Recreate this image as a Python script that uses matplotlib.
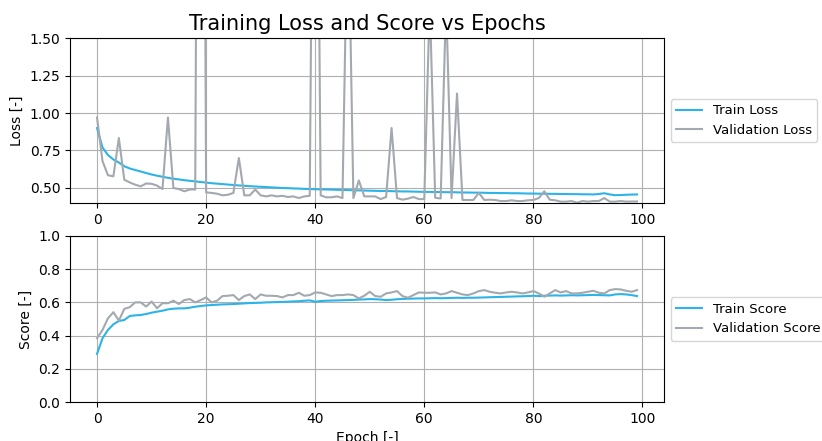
import numpy as np
import matplotlib
matplotlib.use("Agg")
import matplotlib.pyplot as plt

# values, one per epoch
epochs = list(range(100))

train_loss = [
    0.900, 0.770, 0.720, 0.690, 0.670, 0.645, 0.630, 0.620, 0.610, 0.600,
    0.590, 0.582, 0.575, 0.568, 0.562, 0.557, 0.552, 0.548, 0.544, 0.540,
    0.536, 0.532, 0.529, 0.526, 0.523, 0.520, 0.517, 0.515, 0.512, 0.510,
    0.508, 0.506, 0.504, 0.502, 0.500, 0.499, 0.497, 0.496, 0.494, 0.493,
    0.492, 0.491, 0.490, 0.489, 0.488, 0.487, 0.486, 0.485, 0.484, 0.483,
    0.482, 0.481, 0.480, 0.480, 0.479, 0.478, 0.477, 0.477, 0.476, 0.475,
    0.474, 0.474, 0.473, 0.473, 0.472, 0.472, 0.471, 0.470, 0.470, 0.469,
    0.469, 0.468, 0.467, 0.467, 0.466, 0.466, 0.465, 0.465, 0.464, 0.463,
    0.463, 0.462, 0.462, 0.461, 0.461, 0.460, 0.460, 0.459, 0.459, 0.458,
    0.458, 0.457, 0.460, 0.465, 0.457, 0.452, 0.453, 0.455, 0.456, 0.457,
]

val_loss = [
    0.970, 0.680, 0.585, 0.578, 0.833, 0.555, 0.537, 0.522, 0.511, 0.530,
    0.528, 0.516, 0.493, 0.970, 0.500, 0.493, 0.478, 0.490, 0.490, 8.000,
    0.471, 0.467, 0.462, 0.451, 0.455, 0.467, 0.700, 0.451, 0.451, 0.490,
    0.451, 0.444, 0.451, 0.444, 0.448, 0.440, 0.444, 0.433, 0.444, 0.448,
    5.000, 0.451, 0.438, 0.438, 0.444, 0.433, 2.500, 0.433, 0.550, 0.444,
    0.444, 0.444, 0.426, 0.440, 0.900, 0.433, 0.422, 0.429, 0.440, 0.426,
    0.426, 1.750, 0.435, 0.430, 1.750, 0.433, 1.130, 0.420, 0.420, 0.420,
    0.467, 0.420, 0.422, 0.420, 0.413, 0.413, 0.418, 0.413, 0.413, 0.418,
    0.420, 0.433, 0.478, 0.422, 0.418, 0.409, 0.409, 0.413, 0.402, 0.413,
    0.409, 0.413, 0.413, 0.433, 0.409, 0.409, 0.413, 0.409, 0.410, 0.410,
]

train_score = [
    0.290, 0.384, 0.434, 0.468, 0.488, 0.494, 0.518, 0.522, 0.524, 0.530,
    0.538, 0.544, 0.550, 0.558, 0.562, 0.564, 0.564, 0.568, 0.574, 0.578,
    0.582, 0.584, 0.586, 0.588, 0.589, 0.590, 0.592, 0.594, 0.596, 0.597,
    0.598, 0.600, 0.601, 0.602, 0.603, 0.604, 0.606, 0.607, 0.610, 0.612,
    0.604, 0.608, 0.610, 0.611, 0.612, 0.613, 0.614, 0.615, 0.617, 0.618,
    0.620, 0.619, 0.617, 0.614, 0.616, 0.619, 0.621, 0.622, 0.623, 0.624,
    0.624, 0.625, 0.626, 0.625, 0.626, 0.627, 0.628, 0.627, 0.628, 0.628,
    0.629, 0.630, 0.631, 0.632, 0.633, 0.634, 0.635, 0.636, 0.637, 0.638,
    0.640, 0.638, 0.640, 0.641, 0.642, 0.641, 0.642, 0.643, 0.642, 0.643,
    0.644, 0.645, 0.644, 0.643, 0.642, 0.648, 0.650, 0.648, 0.644, 0.638,
]

val_score = [
    0.384, 0.434, 0.504, 0.541, 0.490, 0.561, 0.571, 0.600, 0.600, 0.575,
    0.605, 0.565, 0.595, 0.595, 0.610, 0.590, 0.614, 0.620, 0.600, 0.614,
    0.630, 0.600, 0.610, 0.638, 0.640, 0.644, 0.614, 0.638, 0.648, 0.620,
    0.648, 0.640, 0.640, 0.638, 0.630, 0.644, 0.644, 0.658, 0.640, 0.644,
    0.660, 0.658, 0.648, 0.638, 0.644, 0.644, 0.648, 0.644, 0.624, 0.640,
    0.664, 0.638, 0.634, 0.654, 0.660, 0.668, 0.638, 0.628, 0.644, 0.660,
    0.658, 0.658, 0.660, 0.648, 0.654, 0.668, 0.658, 0.648, 0.644, 0.654,
    0.668, 0.674, 0.664, 0.658, 0.654, 0.660, 0.664, 0.660, 0.654, 0.660,
    0.668, 0.654, 0.634, 0.654, 0.674, 0.660, 0.668, 0.654, 0.654, 0.658,
    0.664, 0.670, 0.658, 0.654, 0.674, 0.680, 0.678, 0.670, 0.664, 0.674,
]

blue = '#2cb4e8'
grey = '#a3a9af'

fig = plt.figure(figsize=(8.22, 4.41), dpi=100)
ax1 = fig.add_axes([0.0852, 0.5397, 0.7226, 0.3741])
ax2 = fig.add_axes([0.0852, 0.0884, 0.7226, 0.3765])

# loss
ax1.plot(epochs, train_loss, color=blue, lw=1.5, label='Train Loss')
ax1.plot(epochs, val_loss, color=grey, lw=1.5, label='Validation Loss')
ax1.set_ylim(0.4, 1.5)
ax1.set_yticks([0.5, 0.75, 1.0, 1.25, 1.5])
ax1.set_ylabel('Loss [-]')
ax1.set_title('Training Loss and Score vs Epochs', fontsize=15)
ax1.grid(True)
ax1.legend(loc='center left', bbox_to_anchor=(1.0, 0.5), fontsize=9.5)

# score
ax2.plot(epochs, train_score, color=blue, lw=1.5, label='Train Score')
ax2.plot(epochs, val_score, color=grey, lw=1.5, label='Validation Score')
ax2.set_ylim(0.0, 1.0)
ax2.set_ylabel('Score [-]')
ax2.set_xlabel('Epoch [-]')
ax2.grid(True)
ax2.legend(loc='center left', bbox_to_anchor=(1.0, 0.5), fontsize=9.5)

fig.savefig('out.png', dpi=100)
